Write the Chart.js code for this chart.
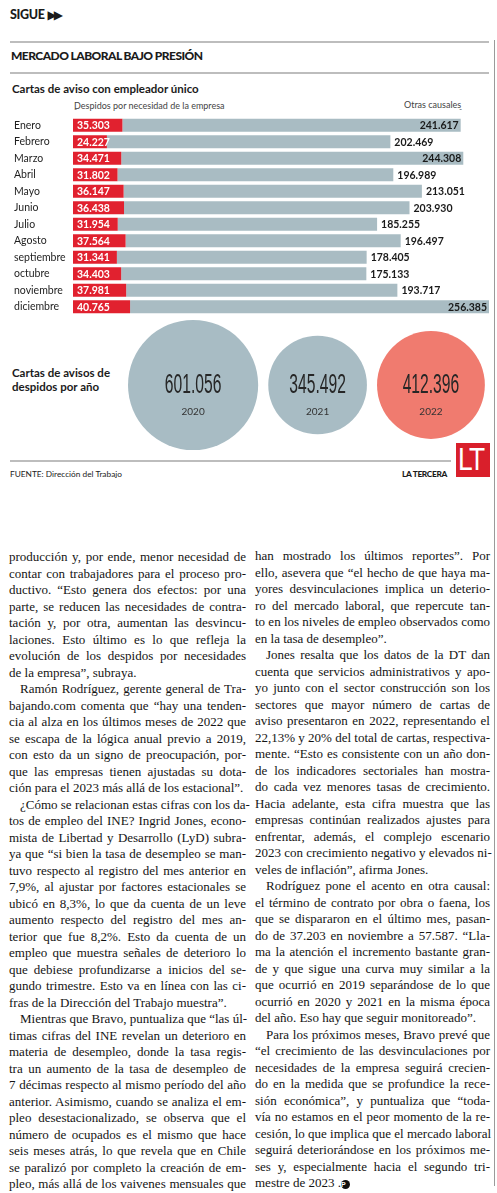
<!DOCTYPE html>
<html lang="es">
<head>
<meta charset="utf-8">
<script src="https://cdn.jsdelivr.net/npm/chart.js@4"></script>
<style>
  html, body { margin: 0; padding: 0; background: #fff; }
  body { width: 497px; height: 1193px; position: relative; overflow: hidden; font-family: "Lato", "Noto Sans", sans-serif; color: #1b1b1b; }
  .abs { position: absolute; white-space: nowrap; line-height: 1; }
  .rule { position: absolute; background: #bdbdbd; }
  .col { position: absolute; font-family: "Liberation Serif", "DejaVu Serif", serif; font-size: 13px; color: #141414; }
  .col div { height: 16.5px; line-height: 16.5px; text-align: justify; text-align-last: justify; white-space: nowrap; }
  .col div.e { text-align-last: left; }
  .col div.i { text-indent: 11px; }
</style>
</head>
<body>
<script>
// ---------------- DATA ----------------
const months = ['Enero','Febrero','Marzo','Abril','Mayo','Junio','Julio','Agosto','septiembre','octubre','noviembre','diciembre'];
const despidosNecesidad = [35303,24227,34471,31802,36147,36438,31954,37564,31341,34403,37981,40765];
const otrasCausales = [241617,202469,244308,196989,213051,203930,185255,196497,178405,175133,193717,256385];
const years = ['2020','2021','2022'];
const cartasPorAnio = [601056,345492,412396];
</script>

<!-- header -->
<div class="abs" style="left:10px;top:9px;font-size:12.5px;font-weight:900;letter-spacing:-0.3px;">SIGUE <span style="font-family:'DejaVu Sans';font-size:12px;letter-spacing:-3px;">▶▶</span></div>
<div class="rule" style="left:10px;top:41px;width:479px;height:2px;"></div>
<div class="abs" style="left:11px;top:50px;font-size:12px;font-weight:900;letter-spacing:-0.55px;">MERCADO LABORAL BAJO PRESIÓN</div>
<div class="rule" style="left:10px;top:72px;width:479px;height:2px;"></div>
<div class="rule" style="left:494px;top:40px;width:1px;height:1146px;background:#9a9a9a;"></div>
<div class="abs" style="left:12px;top:83px;font-size:11.5px;font-weight:700;">Cartas de aviso con empleador único</div>
<div class="abs" style="left:74px;top:101px;font-size:9px;color:#444;">Despidos por necesidad de la empresa</div>
<div class="abs" style="left:404px;top:100px;font-size:9px;color:#444;">Otras causales</div>
<div class="abs" style="left:74px;top:108px;font-size:8px;color:#555;">ˇ</div>
<div class="abs" style="left:459px;top:108px;font-size:8px;color:#555;">ˇ</div>

<canvas id="bars" width="497" height="198" style="position:absolute;left:0;top:117px;"></canvas>

<div class="abs" style="left:12px;top:366px;font-size:11.5px;font-weight:700;line-height:14px;">Cartas de avisos de<br>despidos por año</div>
<canvas id="bubbles" width="369" height="140" style="position:absolute;left:128px;top:315px;"></canvas>

<!-- footer -->
<div class="rule" style="left:10px;top:460px;width:441px;height:2px;"></div>
<div class="abs" style="left:10px;top:470px;font-size:8.3px;color:#222;">FUENTE: Dirección del Trabajo</div>
<div class="abs" style="left:402px;top:470px;font-size:8.3px;font-weight:900;letter-spacing:-0.3px;">LA TERCERA</div>
<div style="position:absolute;left:456px;top:443px;width:34px;height:34px;background:#d91f2b;color:#fff;overflow:hidden;">
  <div style="position:absolute;left:2px;top:1px;font-family:'Liberation Sans';font-size:31px;line-height:32px;letter-spacing:-2px;transform:scaleX(0.85);transform-origin:left top;">LT</div>
</div>

<!-- article left column -->
<div class="col" style="left:9px;top:549px;width:237px;">
<div>producción y, por ende, menor necesidad de</div>
<div>contar con trabajadores para el proceso pro-</div>
<div>ductivo. “Esto genera dos efectos: por una</div>
<div>parte, se reducen las necesidades de contra-</div>
<div>tación y, por otra, aumentan las desvincu-</div>
<div>laciones. Esto último es lo que refleja la</div>
<div>evolución de los despidos por necesidades</div>
<div class="e">de la empresa”, subraya.</div>
<div class="i">Ramón Rodríguez, gerente general de Tra-</div>
<div>bajando.com comenta que “hay una tenden-</div>
<div>cia al alza en los últimos meses de 2022 que</div>
<div>se escapa de la lógica anual previo a 2019,</div>
<div>con esto da un signo de preocupación, por-</div>
<div>que las empresas tienen ajustadas su dota-</div>
<div class="e">ción para el 2023 más allá de los estacional”.</div>
<div class="i">¿Cómo se relacionan estas cifras con los da-</div>
<div>tos de empleo del INE? Ingrid Jones, econo-</div>
<div>mista de Libertad y Desarrollo (LyD) subra-</div>
<div>ya que “si bien la tasa de desempleo se man-</div>
<div>tuvo respecto al registro del mes anterior en</div>
<div>7,9%, al ajustar por factores estacionales se</div>
<div>ubicó en 8,3%, lo que da cuenta de un leve</div>
<div>aumento respecto del registro del mes an-</div>
<div>terior que fue 8,2%. Esto da cuenta de un</div>
<div>empleo que muestra señales de deterioro lo</div>
<div>que debiese profundizarse a inicios del se-</div>
<div>gundo trimestre. Esto va en línea con las ci-</div>
<div class="e">fras de la Dirección del Trabajo muestra”.</div>
<div class="i">Mientras que Bravo, puntualiza que “las úl-</div>
<div>timas cifras del INE revelan un deterioro en</div>
<div>materia de desempleo, donde la tasa regis-</div>
<div>tra un aumento de la tasa de desempleo de</div>
<div>7 décimas respecto al mismo período del año</div>
<div>anterior. Asimismo, cuando se analiza el em-</div>
<div>pleo desestacionalizado, se observa que el</div>
<div>número de ocupados es el mismo que hace</div>
<div>seis meses atrás, lo que revela que en Chile</div>
<div>se paralizó por completo la creación de em-</div>
<div>pleo, más allá de los vaivenes mensuales que</div>
</div>

<!-- article right column -->
<div class="col" style="left:255px;top:548px;width:235px;">
<div>han mostrado los últimos reportes”. Por</div>
<div>ello, asevera que “el hecho de que haya ma-</div>
<div>yores desvinculaciones implica un deterio-</div>
<div>ro del mercado laboral, que repercute tan-</div>
<div>to en los niveles de empleo observados como</div>
<div class="e">en la tasa de desempleo”.</div>
<div class="i">Jones resalta que los datos de la DT dan</div>
<div>cuenta que servicios administrativos y apo-</div>
<div>yo junto con el sector construcción son los</div>
<div>sectores que mayor número de cartas de</div>
<div>aviso presentaron en 2022, representando el</div>
<div>22,13% y 20% del total de cartas, respectiva-</div>
<div>mente. “Esto es consistente con un año don-</div>
<div>de los indicadores sectoriales han mostra-</div>
<div>do cada vez menores tasas de crecimiento.</div>
<div>Hacia adelante, esta cifra muestra que las</div>
<div>empresas continúan realizados ajustes para</div>
<div>enfrentar, además, el complejo escenario</div>
<div>2023 con crecimiento negativo y elevados ni-</div>
<div class="e">veles de inflación”, afirma Jones.</div>
<div class="i">Rodríguez pone el acento en otra causal:</div>
<div>el término de contrato por obra o faena, los</div>
<div>que se dispararon en el último mes, pasan-</div>
<div>do de 37.203 en noviembre a 57.587. “Lla-</div>
<div>ma la atención el incremento bastante gran-</div>
<div>de y que sigue una curva muy similar a la</div>
<div>que ocurrió en 2019 separándose de lo que</div>
<div>ocurrió en 2020 y 2021 en la misma época</div>
<div class="e">del año. Eso hay que seguir monitoreado”.</div>
<div class="i">Para los próximos meses, Bravo prevé que</div>
<div>“el crecimiento de las desvinculaciones por</div>
<div>necesidades de la empresa seguirá crecien-</div>
<div>do en la medida que se profundice la rece-</div>
<div>sión económica”, y puntualiza que “toda-</div>
<div>vía no estamos en el peor momento de la re-</div>
<div>cesión, lo que implica que el mercado laboral</div>
<div>seguirá deteriorándose en los próximos me-</div>
<div>ses y, especialmente hacia el segundo tri-</div>
<div class="e">mestre de 2023 .<span style="display:inline-block;width:9px;height:9px;border-radius:50%;background:#111;color:#fff;font:bold 7px 'Liberation Sans';line-height:9px;text-align:center;text-indent:0;vertical-align:0px;">P</span></div>
</div>

<script>
const fmt = v => String(v).replace(/\B(?=(\d{3})+(?!\d))/g, '.');

// ---------- Bar chart ----------
const tickFont = { family: 'Lato', size: 10.5 };
const labelLeft = 14, axisWidth = 59;

const barLabels = {
  id: 'barLabels',
  afterDatasetsDraw(chart) {
    const ctx = chart.ctx;
    ctx.save();
    ctx.textBaseline = 'middle';
    ctx.font = 'bold 10.5px Lato';
    const m0 = chart.getDatasetMeta(0), m1 = chart.getDatasetMeta(1);
    m0.data.forEach((el, i) => {
      ctx.fillStyle = '#ffffff';
      ctx.textAlign = 'left';
      ctx.fillText(fmt(despidosNecesidad[i]), el.base + 4, el.y + 0.5);
    });
    m1.data.forEach((el, i) => {
      const t = fmt(otrasCausales[i]);
      const w = ctx.measureText(t).width;
      ctx.fillStyle = '#1a1a1a';
      if (el.x + 4 + w > 468) { ctx.textAlign = 'right'; ctx.fillText(t, el.x - 2, el.y + 0.5); }
      else { ctx.textAlign = 'left'; ctx.fillText(t, el.x + 4, el.y + 0.5); }
    });
    ctx.restore();
  }
};

new Chart(document.getElementById('bars'), {
  type: 'bar',
  data: {
    labels: months,
    datasets: [
      { label: 'Despidos por necesidad de la empresa', data: despidosNecesidad, backgroundColor: '#e1212f', barPercentage: 0.8, categoryPercentage: 1 },
      { label: 'Otras causales', data: otrasCausales, backgroundColor: '#a9bcc3', barPercentage: 0.8, categoryPercentage: 1 }
    ]
  },
  options: {
    indexAxis: 'y',
    responsive: false,
    animation: false,
    events: [],
    layout: { autoPadding: false, padding: { left: labelLeft, right: 4, top: 0, bottom: 0 } },
    plugins: { legend: { display: false }, tooltip: { enabled: false } },
    scales: {
      x: { stacked: true, min: 0, max: 300000, display: false },
      y: {
        stacked: true,
        grid: { display: false, drawTicks: false },
        border: { display: false },
        ticks: { color: '#1e1e1e', font: tickFont, crossAlign: 'far', padding: 4 },
        afterFit(scale) { scale.width = axisWidth; scale.paddingTop = 0; scale.paddingBottom = 0; }
      }
    }
  },
  plugins: [barLabels]
});

// ---------- Bubble chart (area proportional circles) ----------
const radiusUnits = cartasPorAnio.map(v => Math.sqrt(v / 1000));
const gapUnits = 3.8;
const centers = [];
radiusUnits.forEach((r, i) => {
  centers.push(i === 0 ? r : centers[i - 1] + radiusUnits[i - 1] + gapUnits + r);
});
const bubbleData = centers.map(c => ({ x: c, y: 0, r: 0 }));

const circleLabels = {
  id: 'circleLabels',
  afterDatasetsDraw(chart) {
    const ctx = chart.ctx;
    const meta = chart.getDatasetMeta(0);
    meta.data.forEach((el, i) => {
      ctx.save();
      ctx.translate(el.x, el.y + 1);
      ctx.scale(0.58, 1);
      ctx.font = '27px "Liberation Sans"';
      ctx.fillStyle = '#262626';
      ctx.textAlign = 'center';
      ctx.textBaseline = 'middle';
      ctx.fillText(fmt(cartasPorAnio[i]), 0, 0);
      ctx.restore();
      ctx.save();
      ctx.font = '10px Lato';
      ctx.fillStyle = '#333';
      ctx.textAlign = 'center';
      ctx.textBaseline = 'middle';
      ctx.fillText(years[i], el.x, el.y + 27);
      ctx.restore();
    });
  }
};

const bubbleChart = new Chart(document.getElementById('bubbles'), {
  type: 'bubble',
  data: {
    labels: years,
    datasets: [{
      label: 'Cartas de avisos de despidos por año',
      data: bubbleData,
      backgroundColor: ['#a8bcc4', '#a8bcc4', '#f07b6f'],
      borderWidth: 0,
      clip: false
    }]
  },
  options: {
    responsive: false,
    animation: false,
    events: [],
    layout: { autoPadding: false, padding: 0 },
    plugins: { legend: { display: false }, tooltip: { enabled: false } },
    scales: {
      x: { type: 'linear', min: 0, max: 139, display: false },
      y: { type: 'linear', min: -1, max: 1, display: false }
    }
  },
  plugins: [circleLabels]
});
// radius in pixels derived from the x scale so circle area is proportional to the value
const xs = bubbleChart.scales.x;
bubbleChart.data.datasets[0].data.forEach((d, i) => {
  d.r = xs.getPixelForValue(radiusUnits[i]) - xs.getPixelForValue(0);
});
bubbleChart.update('none');
</script>
</body>
</html>
